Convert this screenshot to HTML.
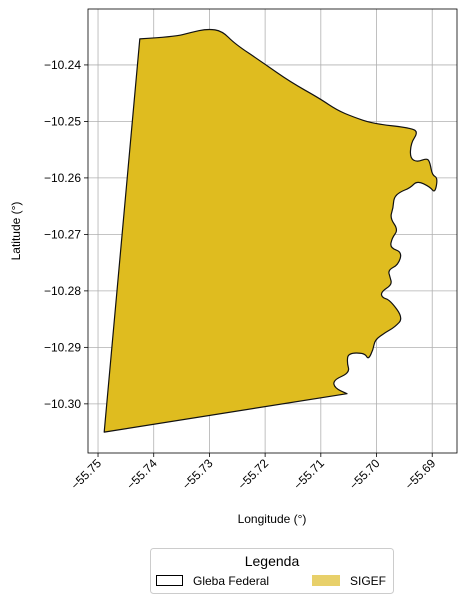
<!DOCTYPE html>
<html><head><meta charset="utf-8"><style>
body{margin:0;background:#fff;font-family:"Liberation Sans",sans-serif}
svg text{font-family:"Liberation Sans",sans-serif}
</style></head><body>
<svg id="c" width="465" height="604" xmlns="http://www.w3.org/2000/svg"></svg>
<script>
const lons=[-55.7425,-55.7362,-55.7335,-55.7303,-55.7277,-55.7254,-55.7204,-55.7155,-55.7101,-55.7071,-55.7042,-55.7006,-55.6935,-55.6926,-55.6938,-55.6940,-55.6927,-55.6909,-55.6904,-55.6900,-55.6890,-55.6895,-55.6904,-55.6927,-55.6940,-55.6958,-55.6969,-55.6970,-55.6976,-55.6961,-55.6972,-55.6976,-55.6954,-55.6961,-55.6979,-55.6976,-55.6972,-55.6992,-55.6990,-55.6976,-55.6952,-55.6967,-55.6985,-55.7003,-55.7006,-55.7015,-55.7021,-55.7051,-55.7053,-55.7048,-55.7078,-55.7075,-55.7053,-55.7489];
const lats=[-10.2354,-10.2350,-10.2343,-10.2336,-10.2340,-10.2363,-10.2396,-10.2430,-10.2460,-10.2480,-10.2492,-10.2504,-10.2512,-10.2520,-10.2538,-10.2565,-10.2572,-10.2565,-10.2573,-10.2595,-10.2600,-10.2627,-10.2616,-10.2605,-10.2618,-10.2625,-10.2635,-10.2653,-10.2671,-10.2692,-10.2706,-10.2724,-10.2731,-10.2754,-10.2763,-10.2775,-10.2789,-10.2802,-10.2812,-10.2816,-10.2848,-10.2864,-10.2874,-10.2887,-10.2904,-10.2922,-10.2910,-10.2910,-10.2927,-10.2945,-10.2958,-10.2972,-10.2982,-10.3050];
const xTicks=[-55.75,-55.74,-55.73,-55.72,-55.71,-55.70,-55.69];
const xTickLabels=["\u221255.75","\u221255.74","\u221255.73","\u221255.72","\u221255.71","\u221255.70","\u221255.69"];
const yTicks=[-10.24,-10.25,-10.26,-10.27,-10.28,-10.29,-10.30];
const yTickLabels=["\u221210.24","\u221210.25","\u221210.26","\u221210.27","\u221210.28","\u221210.29","\u221210.30"];
const L=88,R=457,T=9,B=453;
const x0=-55.7518,x1=-55.68555,y0=-10.3087,y1=-10.2301;
const sx=v=>L+(v-x0)/(x1-x0)*(R-L);
const sy=v=>B-(v-y0)/(y1-y0)*(B-T);
const svg=document.getElementById('c');
const NS="http://www.w3.org/2000/svg";
function mk(t,a,p){const e=document.createElementNS(NS,t);for(const k in a)e.setAttribute(k,a[k]);(p||svg).appendChild(e);return e;}
xTicks.forEach((v,i)=>{
 const g=mk('line',{x1:sx(v),x2:sx(v),y1:T,y2:B,stroke:'#b0b0b0','stroke-width':0.8});
 
 
});
yTicks.forEach((v,i)=>{
 const g=mk('line',{x1:L,x2:R,y1:sy(v),y2:sy(v),stroke:'#b0b0b0','stroke-width':0.8});
 
 
});
// smoothed polygon path (corners at first and last point kept sharp)
const P=lons.map((v,i)=>[sx(v),sy(lats[i])]);
const n=P.length;
let d='M'+P[0][0].toFixed(1)+','+P[0][1].toFixed(1);
for(let i=1;i<n-2;i++){
 const m=[(P[i][0]+P[i+1][0])/2,(P[i][1]+P[i+1][1])/2];
 d+=' Q'+P[i][0].toFixed(1)+','+P[i][1].toFixed(1)+' '+m[0].toFixed(1)+','+m[1].toFixed(1);
}
d+=' L'+P[n-2][0].toFixed(1)+','+P[n-2][1].toFixed(1);
d+=' L'+P[n-1][0].toFixed(1)+','+P[n-1][1].toFixed(1)+' Z';
const poly=mk('path',{d:d,fill:'#dfbc1f',stroke:'#111','stroke-width':1.2,'stroke-linejoin':'round'});


const fr=mk('rect',{x:L,y:T,width:R-L,height:B-T,fill:'none',stroke:'#000','stroke-width':0.8});


xTicks.forEach((v,i)=>{
 const x=sx(v);
 const t=mk('line',{x1:x,x2:x,y1:B,y2:B+4,stroke:'#000','stroke-width':0.8});
 
 
 const tx=mk('text',{x:x+4,y:B+11,'font-size':12,'text-anchor':'end',transform:`rotate(-45 ${x+4} ${B+11})`});
 tx.textContent=xTickLabels[i];
 
 
});
yTicks.forEach((v,i)=>{
 const y=sy(v);
 const t=mk('line',{x1:L-4,x2:L,y1:y,y2:y,stroke:'#000','stroke-width':0.8});
 
 
 const tx=mk('text',{x:L-7,y:y+4,'font-size':12,'text-anchor':'end'});
 tx.textContent=yTickLabels[i];
 
 
});
</script>
<svg width="465" height="604" style="position:absolute;left:0;top:0" xmlns="http://www.w3.org/2000/svg">
<text x="272" y="523" font-size="12" text-anchor="middle">Longitude (°)</text>
<text x="20" y="231" font-size="12" text-anchor="middle" transform="rotate(-90 20 231)">Latitude (°)</text>
<g>
<rect x="150.5" y="548.5" width="243" height="45" rx="3" fill="#fff" stroke="#ccc"/>
<text x="272" y="566" font-size="14" text-anchor="middle">Legenda</text>
<rect x="156.5" y="575.5" width="26" height="10" fill="#fff" stroke="#000"/>
<text x="193" y="585" font-size="12">Gleba Federal</text>
<rect x="312" y="575" width="28" height="11" fill="#e8d06a"/>
<text x="350" y="585" font-size="12">SIGEF</text>
</g>
</svg>
</body></html>
